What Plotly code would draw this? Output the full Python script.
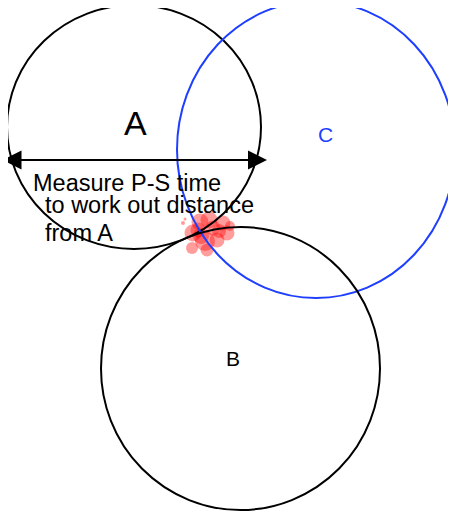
import plotly.graph_objects as go

# circles: centre x, centre y, radius x, radius y, colour (pixel-like data units, y downward)
circle_names = ["A", "C", "B"]
circle_cx = [134, 316, 240.5]
circle_cy = [127, 149.5, 368.5]
circle_rx = [127, 139, 139.5]
circle_ry = [122, 148.5, 141.5]
circle_colors = ["#000000", "#1f3fff", "#000000"]

# circle labels
label_text = ["A", "C", "B"]
label_x = [135.5, 325, 233]
label_y = [123, 134.5, 358]
label_size = [34, 21, 21]
label_color = ["#000000", "#1f3fff", "#000000"]

# epicentre estimate blobs
blob_x = [183, 185, 200, 209, 223, 227, 217, 205, 193, 192, 207, 198, 213, 230, 201, 219]
blob_y = [223, 219, 222, 220, 223, 233, 240, 241, 233, 248, 250, 230, 228, 226, 236, 231]
blob_d = [4, 3, 17, 17, 15, 15, 15, 20, 17, 12, 13, 15, 15, 10, 16, 14]

# distance arrow
arrow_x = [1, 267]
arrow_y = [160, 160]

# explanatory note
note_lines = ["Measure P-S time", "to work out distance", "from A"]
note_x = [31, 43, 43]
note_y = [183, 205, 233]

fig = go.Figure()

fig.add_trace(go.Scatter(
    x=blob_x, y=blob_y, mode="markers",
    marker=dict(size=blob_d, color="rgba(255,0,0,0.55)", line=dict(width=0)),
    hoverinfo="skip", showlegend=False,
))

for cx, cy, rx, ry, col in zip(circle_cx, circle_cy, circle_rx, circle_ry, circle_colors):
    fig.add_shape(type="circle", xref="x", yref="y",
                  x0=cx - rx, x1=cx + rx, y0=cy - ry, y1=cy + ry,
                  line=dict(color=col, width=2), fillcolor="rgba(0,0,0,0)")

fig.add_annotation(x=arrow_x[1], y=arrow_y[1], ax=arrow_x[0], ay=arrow_y[0],
                   xref="x", yref="y", axref="x", ayref="y", text="",
                   showarrow=True, arrowhead=2, arrowside="end+start",
                   arrowwidth=2, arrowsize=1.9, arrowcolor="#000000", standoff=0, startstandoff=0)

for t, x, y, s, c in zip(label_text, label_x, label_y, label_size, label_color):
    fig.add_annotation(x=x, y=y, xref="x", yref="y", text=t, showarrow=False,
                       xanchor="center", yanchor="middle",
                       font=dict(family="Liberation Sans, Arial", size=s, color=c))

for t, x, y in zip(note_lines, note_x, note_y):
    fig.add_annotation(x=x, y=y, xref="x", yref="y", text=t, showarrow=False,
                       xanchor="left", yanchor="middle",
                       font=dict(family="Liberation Sans, Arial", size=23.5, color="#000000"))

# the page body has an 8px margin: shrink the figure and offset the ranges so
# that data units line up with window pixels
fig.update_xaxes(range=[8, 456], visible=False, showgrid=False, zeroline=False)
fig.update_yaxes(range=[511, 8], visible=False, showgrid=False, zeroline=False)
fig.update_layout(width=448, height=503, margin=dict(l=0, r=0, t=0, b=0),
                  paper_bgcolor="white", plot_bgcolor="white", showlegend=False)

fig.write_html("out.html")
